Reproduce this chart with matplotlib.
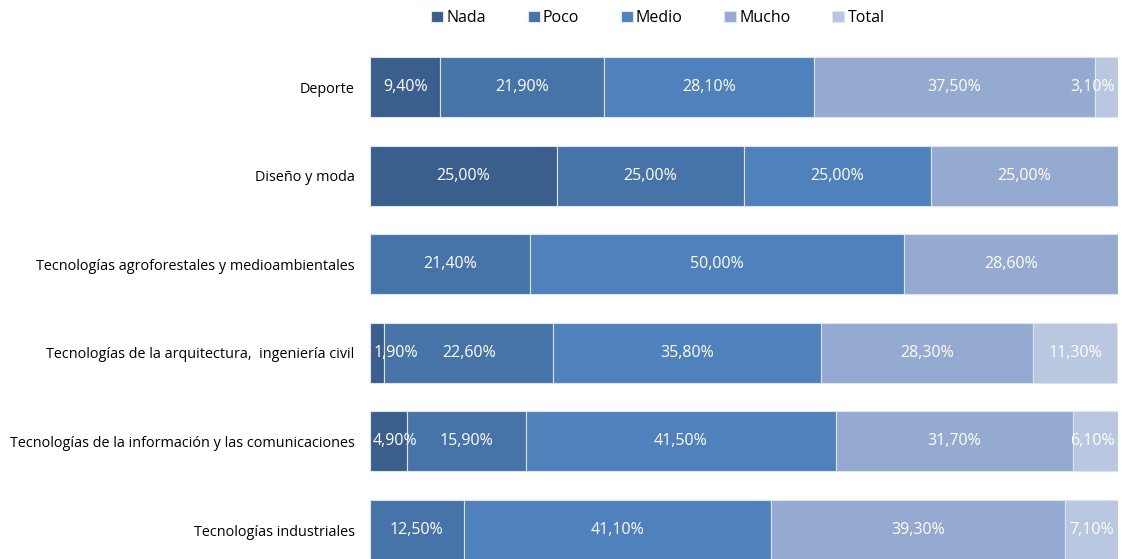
import numpy as np
import matplotlib.pyplot as plt

plt.rcParams['font.family'] = ['Open Sans', 'DejaVu Sans']

categorias = ['Deporte',
              'Diseño y moda',
              'Tecnologías agroforestales y medioambientales',
              'Tecnologías de la arquitectura,  ingeniería civil',
              'Tecnologías de la información y las comunicaciones',
              'Tecnologías industriales']

niveles = ['Nada', 'Poco', 'Medio', 'Mucho', 'Total']

nada = [9.4, 25.0, 0.0, 1.9, 4.9, 0.0]
poco = [21.9, 25.0, 21.4, 22.6, 15.9, 12.5]
medio = [28.1, 25.0, 50.0, 35.8, 41.5, 41.1]
mucho = [37.5, 25.0, 28.6, 28.3, 31.7, 39.3]
total = [3.1, 0.0, 0.0, 11.3, 6.1, 7.1]

colores = ['#3A5F8D', '#4673A8', '#4F81BD', '#95AAD1', '#BAC7E0']

series = [nada, poco, medio, mucho, total]

fig = plt.figure(figsize=(11.22, 5.59), dpi=100)
ax = fig.add_axes([370 / 1122, 0, 748 / 1122, 1])

y = np.arange(len(categorias))
left = np.zeros(len(categorias))
half = 0.034
for serie, nombre, col in zip(series, niveles, colores):
    vals = np.array(serie) / 100
    ax.barh(y, vals, left=left, height=0.677, color=col, edgecolor='#DDE4EE',
            linewidth=0.8, label=nombre)
    for i, v in enumerate(vals):
        if v <= 0:
            continue
        xc = left[i] + v / 2
        xc = min(max(xc, half), 1 - half)
        ax.text(xc, y[i], f'{v * 100:.2f}%'.replace('.', ','), ha='center', va='center',
                color='white', fontsize=11.5)
    left += vals

ax.set_xlim(0, 1)
ax.set_ylim(5.327, -0.982)
ax.set_yticks(y)
ax.set_yticklabels(categorias, fontsize=10.4)
ax.tick_params(axis='y', length=0, pad=11)
ax.set_xticks([])
for s in ax.spines.values():
    s.set_visible(False)

fig.legend(loc='center', bbox_to_anchor=(658 / 1122, 1 - 18 / 559), ncol=5,
           frameon=False, fontsize=11.5, handlelength=0.75, handleheight=0.75,
           handletextpad=0.2, columnspacing=2.6)

fig.savefig('out.png', dpi=100)
